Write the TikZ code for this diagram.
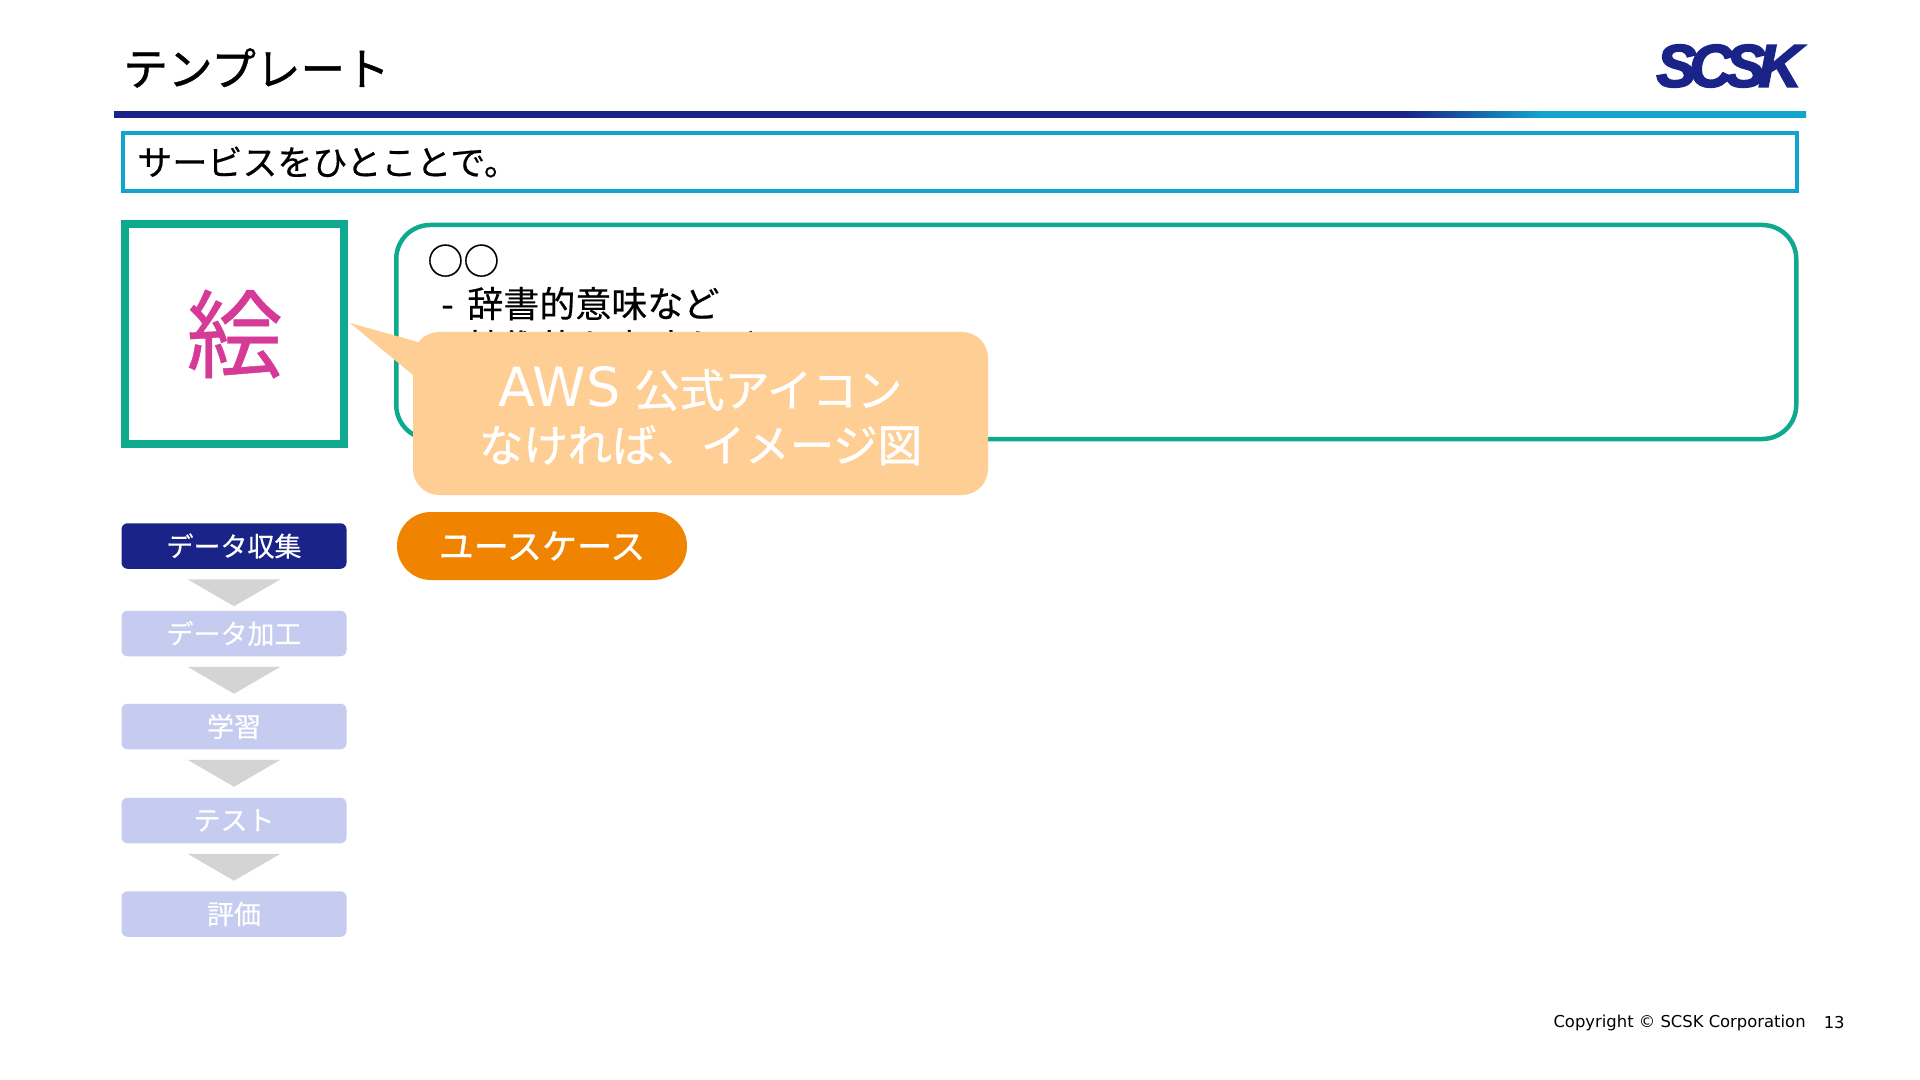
\documentclass[tikz,border=0pt]{standalone}
\usepackage{fontspec}
\setmainfont[FakeBold=0.4]{Noto Sans CJK JP}
\newfontfamily\heavyfont[FakeBold=1]{Noto Sans CJK JP}
\newfontfamily\latinfont{DejaVu Sans}
\newfontfamily\logofont[FakeBold=3,LetterSpace=-12]{Liberation Sans}
\usetikzlibrary{calc, positioning}
\definecolor{navy}{HTML}{1A2388}
\definecolor{skyline}{HTML}{12A5CB}
\definecolor{teal}{HTML}{0FA98F}
\definecolor{stagepale}{HTML}{C5CCF0}
\definecolor{flowgrey}{HTML}{D4D4D4}
\definecolor{pillorange}{HTML}{F08300}
\definecolor{notepeach}{HTML}{FFCE94}
\definecolor{drawpink}{HTML}{D53A96}
\pgfdeclarehorizontalshading{rulefade}{100bp}{color(0bp)=(navy); color(63.2bp)=(navy); color(67.2bp)=(skyline); color(100bp)=(skyline)}
\setlength{\lineskiplimit}{-20pt}

\begin{document}
\begin{tikzpicture}[
        x = 0.5pt, y = -0.5pt,
node distance = 24pt and 10pt,
    stage/.style = {fill=stagepale, text=white, rounded corners=3pt, inner sep=0pt, outer sep=0pt,
                    minimum width=112.5pt, minimum height=22.75pt,
                    font=\fontsize{13.5}{16}\selectfont},
 stagenow/.style = {stage, fill=navy},
     flow/.style = {fill=flowgrey},
        ]
\useasboundingbox (0,0) rectangle (1920,1080);
\fill[white] (0,0) rectangle (1920,1080);

% header
\node (title) [anchor=west, inner sep=0pt, font=\heavyfont\fontsize{22.3}{26}\selectfont] at (123,68) {テンプレート};
\node (logo)  [inner sep=0pt, text=navy, font=\logofont\bfseries\itshape\fontsize{30}{32}\selectfont] at (1729,66) {SCSK};
\shade[shading=rulefade] (114,111.5) rectangle (1806,117.5);

\node (hint) [draw=skyline, line width=2pt, anchor=west, inner sep=0pt,
              minimum width=837pt, minimum height=29pt] at (121,162) {};
\node (hinttext) [anchor=west, inner sep=0pt, xshift=8pt, font=\fontsize{17.5}{20}\selectfont] at (hint.west) {サービスをひとことで。};

% picture and text
\node (pict) [draw=teal, line width=4pt, inner sep=0pt, minimum width=109.5pt, minimum height=110pt,
              text=drawpink, font=\fontsize{48}{52}\selectfont] at (234.5,334) {絵};
\node (desc) [draw=teal, line width=2.25pt, rounded corners=17pt, anchor=west, inner sep=0pt,
              minimum width=700pt, minimum height=107pt] at (394,332) {};
\node (desctext) [anchor=north west, inner sep=0pt, align=left, font=\fontsize{18}{21.5}\selectfont]
      at (427,244) {○○\\\hspace{7pt}{\latinfont -}\hspace{6.5pt}辞書的意味など\\\hspace{7pt}{\latinfont -}\hspace{6.5pt}技術的な意味など};

% note on top
\coordinate (tip) at (350,323);
\fill[notepeach] (tip) -- (418,342) -- (413,375) -- cycle;
\node (note) [fill=notepeach, rounded corners=13pt, inner sep=0pt,
              minimum width=287.5pt, minimum height=81.5pt] at (700.5,413.5) {};
\node (notetext) [text=white, inner sep=0pt, align=center, yshift=-1.25pt,
              font=\heavyfont\fontsize{22.5}{27.5}\selectfont] at (note) {{\latinfont\fontsize{27}{27.5}\selectfont AWS}\hspace{7pt}公式アイコン\\{\fontsize{22.2}{27.5}\selectfont なければ、イメージ図}};

% stages
\node (s1) [stagenow] at (234,546) {データ収集};
\node (s2) [stage, below=21pt of s1] {データ加工};
\node (s3) [stage, below=23.75pt of s2] {学習};
\node (s4) [stage, below=24.25pt of s3] {テスト};
\node (s5) [stage, below=of s4] {評価};
\foreach \a in {s1,s2,s3,s4}
    \fill[flow] ($(\a.south)+(-46.5,10.5)$) -- ($(\a.south)+(46.5,10.5)$) -- ($(\a.south)+(0,37.5)$) -- cycle;

\node (usecase) [fill=pillorange, text=white, rounded corners=17pt, inner sep=0pt,
                 minimum width=145pt, minimum height=34pt,
                 font=\heavyfont\fontsize{17.5}{20}\selectfont] at (542,546) {ユースケース};

% footer
\node (copy) [anchor=east, inner sep=0pt, font=\latinfont\fontsize{8.2}{10}\selectfont] at (1806,1023) {Copyright © SCSK Corporation};
\node (page) [anchor=east, inner sep=0pt, font=\latinfont\fontsize{8.2}{10}\selectfont] at (1845,1023) {13};
\end{tikzpicture}
\end{document}
